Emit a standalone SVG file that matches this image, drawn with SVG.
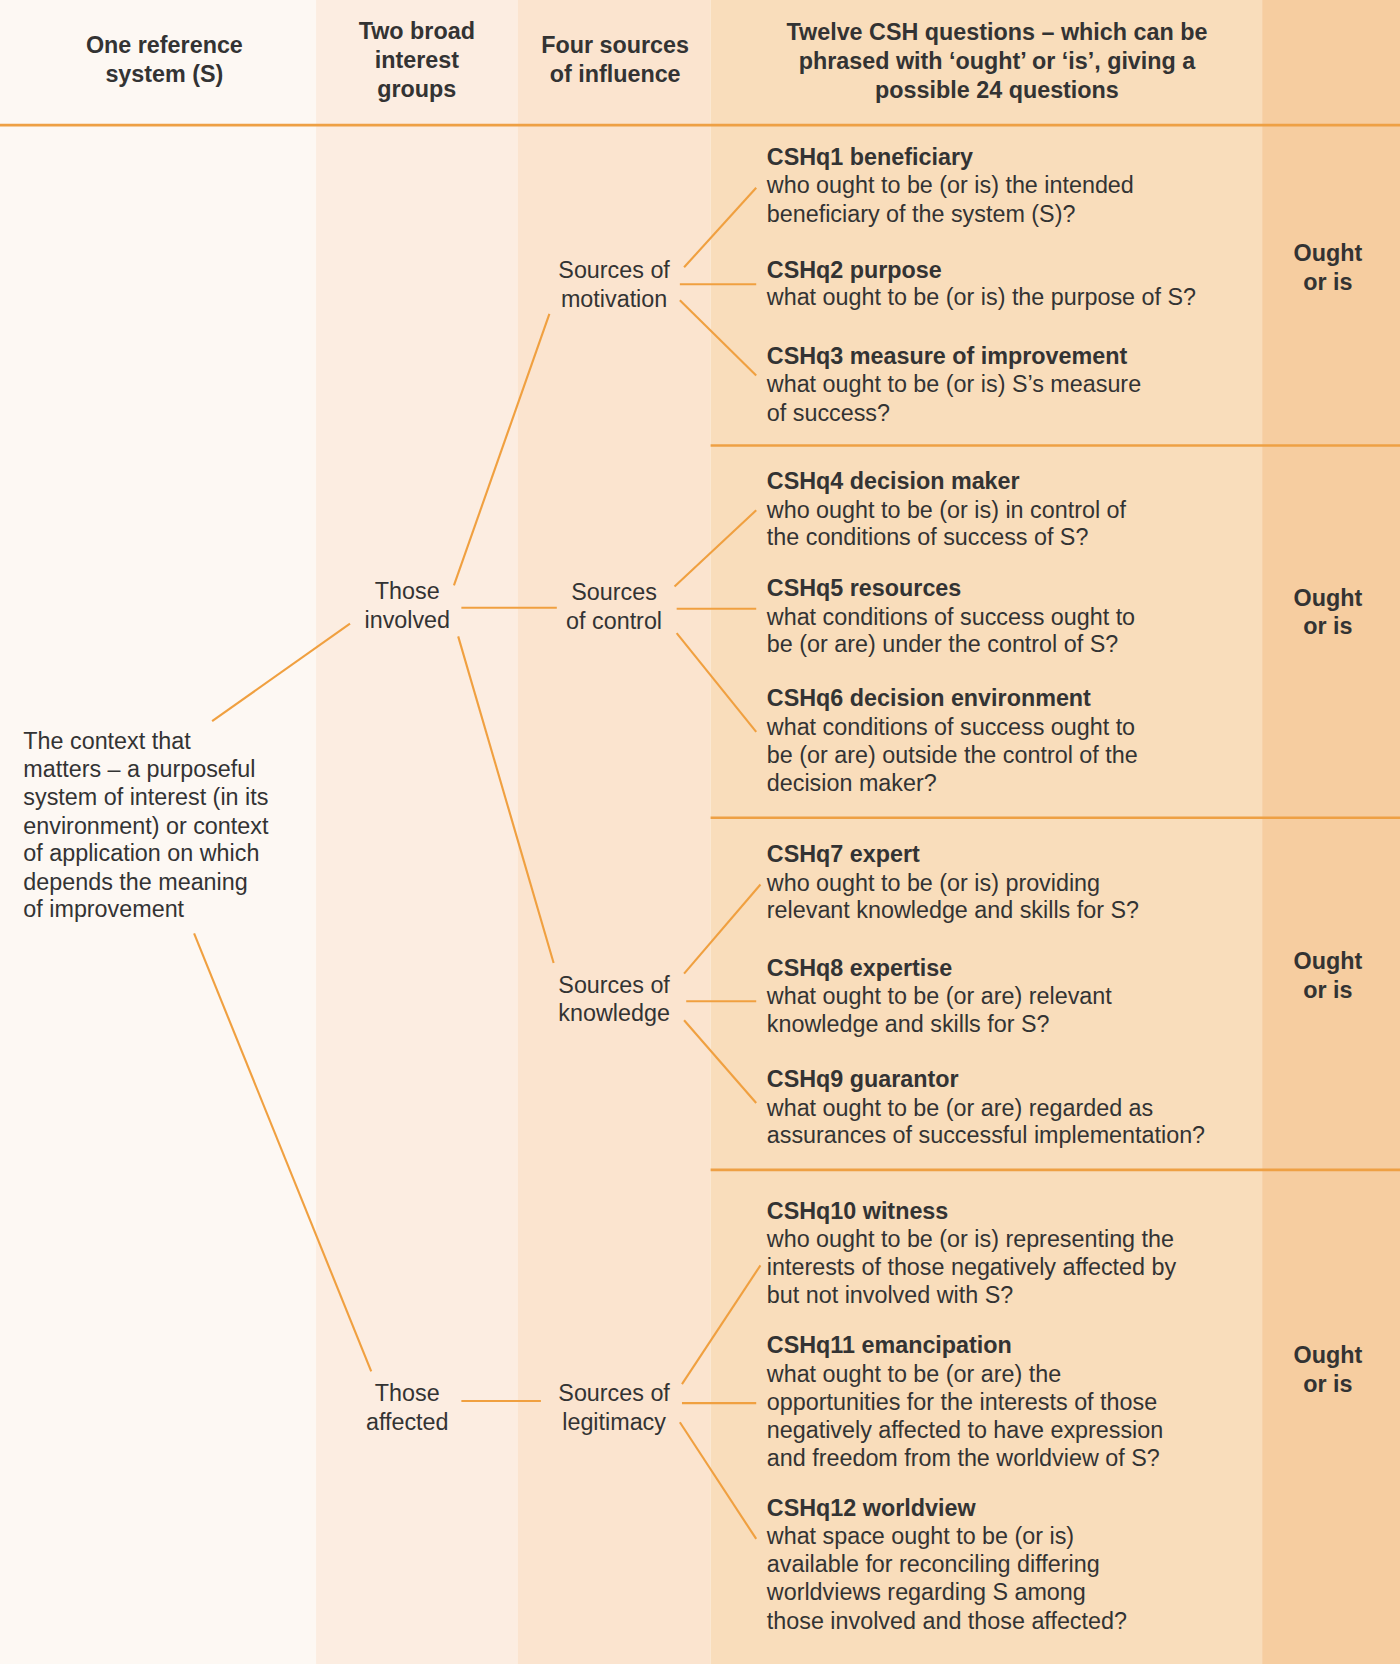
<svg xmlns="http://www.w3.org/2000/svg" width="1400" height="1664" viewBox="0 0 1400 1664">
<style>
text{font-family:"Liberation Sans",Arial,sans-serif;font-size:22px;fill:#333}
.b{font-weight:bold}
.c{text-anchor:middle}
.ln{stroke:#f0a040;stroke-width:2;fill:none}
.sep{stroke:#eea044;stroke-width:2.5}
</style>
<g transform="scale(1.060606)">
<g id="background">
<rect x="0" y="0" width="298" height="1569" fill="#fdf8f3"/>
<rect x="298" y="0" width="190" height="1569" fill="#fcede1"/>
<rect x="488" y="0" width="182" height="1569" fill="#fbe4cf"/>
<rect x="670" y="0" width="520" height="1569" fill="#f9ddbb"/>
<rect x="1190" y="0" width="130" height="1569" fill="#f6cda0"/>
<line class="sep" x1="0" y1="118" x2="1320" y2="118"/>
<line class="sep" x1="670" y1="420" x2="1320" y2="420"/>
<line class="sep" x1="670" y1="771" x2="1320" y2="771"/>
<line class="sep" x1="670" y1="1103" x2="1320" y2="1103"/>
</g>
<g id="headers" class="b">
<text class="c b" x="155" y="50">One reference</text><text class="c b" x="155" y="77">system (S)</text>
<text class="c b" x="393" y="37">Two broad</text><text class="c b" x="393" y="64">interest</text><text class="c b" x="393" y="91">groups</text>
<text class="c b" x="580" y="50">Four sources</text><text class="c b" x="580" y="77">of influence</text>
<text class="c b" x="940" y="38">Twelve CSH questions – which can be</text><text class="c b" x="940" y="65">phrased with ‘ought’ or ‘is’, giving a</text><text class="c b" x="940" y="92">possible 24 questions</text>
</g>
<g id="connectors" class="ln">
<line x1="200" y1="680" x2="330" y2="588"/>
<line x1="183" y1="880" x2="350" y2="1293"/>
<line x1="428" y1="552" x2="518" y2="296"/>
<line x1="435" y1="573" x2="525" y2="573"/>
<line x1="432" y1="600" x2="522" y2="908"/>
<line x1="435" y1="1321" x2="510" y2="1321"/>
<line x1="645" y1="252" x2="713" y2="177"/>
<line x1="641" y1="268" x2="713" y2="268"/>
<line x1="641" y1="283" x2="713" y2="354"/>
<line x1="636" y1="553" x2="713" y2="481"/>
<line x1="638" y1="574" x2="713" y2="574"/>
<line x1="638" y1="597" x2="713" y2="690"/>
<line x1="645" y1="918" x2="717" y2="834"/>
<line x1="647" y1="944" x2="713" y2="944"/>
<line x1="645" y1="962" x2="713" y2="1040"/>
<line x1="643" y1="1305" x2="717" y2="1193"/>
<line x1="643" y1="1323" x2="713" y2="1323"/>
<line x1="641" y1="1341" x2="713" y2="1451"/>
</g>
<g id="context">
<text x="22" y="706">The context that</text><text x="22" y="733">matters – a purposeful</text><text x="22" y="759">system of interest (in its</text><text x="22" y="786">environment) or context</text><text x="22" y="812">of application on which</text><text x="22" y="839">depends the meaning</text><text x="22" y="865">of improvement</text>
</g>
<g id="involved"><text class="c" x="384" y="565">Those</text><text class="c" x="384" y="592">involved</text></g>
<g id="affected"><text class="c" x="384" y="1321">Those</text><text class="c" x="384" y="1348">affected</text></g>
<g id="motivation"><text class="c" x="579" y="262">Sources of</text><text class="c" x="579" y="289">motivation</text></g>
<g id="control"><text class="c" x="579" y="566">Sources</text><text class="c" x="579" y="593">of control</text></g>
<g id="knowledge"><text class="c" x="579" y="936">Sources of</text><text class="c" x="579" y="963">knowledge</text></g>
<g id="legitimacy"><text class="c" x="579" y="1321">Sources of</text><text class="c" x="579" y="1348">legitimacy</text></g>
<g id="ought">
<text class="c b" x="1252" y="246">Ought</text><text class="c b" x="1252" y="273">or is</text>
<text class="c b" x="1252" y="571">Ought</text><text class="c b" x="1252" y="598">or is</text>
<text class="c b" x="1252" y="914">Ought</text><text class="c b" x="1252" y="941">or is</text>
<text class="c b" x="1252" y="1285">Ought</text><text class="c b" x="1252" y="1312">or is</text>
</g>
<g id="q1"><text class="b" x="723" y="156">CSHq1 beneficiary</text><text x="723" y="182">who ought to be (or is) the intended</text><text x="723" y="209">beneficiary of the system (S)?</text></g>
<g id="q2"><text class="b" x="723" y="262">CSHq2 purpose</text><text x="723" y="288">what ought to be (or is) the purpose of S?</text></g>
<g id="q3"><text class="b" x="723" y="343">CSHq3 measure of improvement</text><text x="723" y="370">what ought to be (or is) S’s measure</text><text x="723" y="397">of success?</text></g>
<g id="q4"><text class="b" x="723" y="461">CSHq4 decision maker</text><text x="723" y="488">who ought to be (or is) in control of</text><text x="723" y="514">the conditions of success of S?</text></g>
<g id="q5"><text class="b" x="723" y="562">CSHq5 resources</text><text x="723" y="589">what conditions of success ought to</text><text x="723" y="615">be (or are) under the control of S?</text></g>
<g id="q6"><text class="b" x="723" y="666">CSHq6 decision environment</text><text x="723" y="693">what conditions of success ought to</text><text x="723" y="719">be (or are) outside the control of the</text><text x="723" y="746">decision maker?</text></g>
<g id="q7"><text class="b" x="723" y="813">CSHq7 expert</text><text x="723" y="840">who ought to be (or is) providing</text><text x="723" y="866">relevant knowledge and skills for S?</text></g>
<g id="q8"><text class="b" x="723" y="920">CSHq8 expertise</text><text x="723" y="947">what ought to be (or are) relevant</text><text x="723" y="973">knowledge and skills for S?</text></g>
<g id="q9"><text class="b" x="723" y="1025">CSHq9 guarantor</text><text x="723" y="1052">what ought to be (or are) regarded as</text><text x="723" y="1078">assurances of successful implementation?</text></g>
<g id="q10"><text class="b" x="723" y="1149">CSHq10 witness</text><text x="723" y="1176">who ought to be (or is) representing the</text><text x="723" y="1202">interests of those negatively affected by</text><text x="723" y="1229">but not involved with S?</text></g>
<g id="q11"><text class="b" x="723" y="1276">CSHq11 emancipation</text><text x="723" y="1303">what ought to be (or are) the</text><text x="723" y="1329">opportunities for the interests of those</text><text x="723" y="1356">negatively affected to have expression</text><text x="723" y="1382">and freedom from the worldview of S?</text></g>
<g id="q12"><text class="b" x="723" y="1429">CSHq12 worldview</text><text x="723" y="1456">what space ought to be (or is)</text><text x="723" y="1482">available for reconciling differing</text><text x="723" y="1509">worldviews regarding S among</text><text x="723" y="1536">those involved and those affected?</text></g>
</g>
</svg>
